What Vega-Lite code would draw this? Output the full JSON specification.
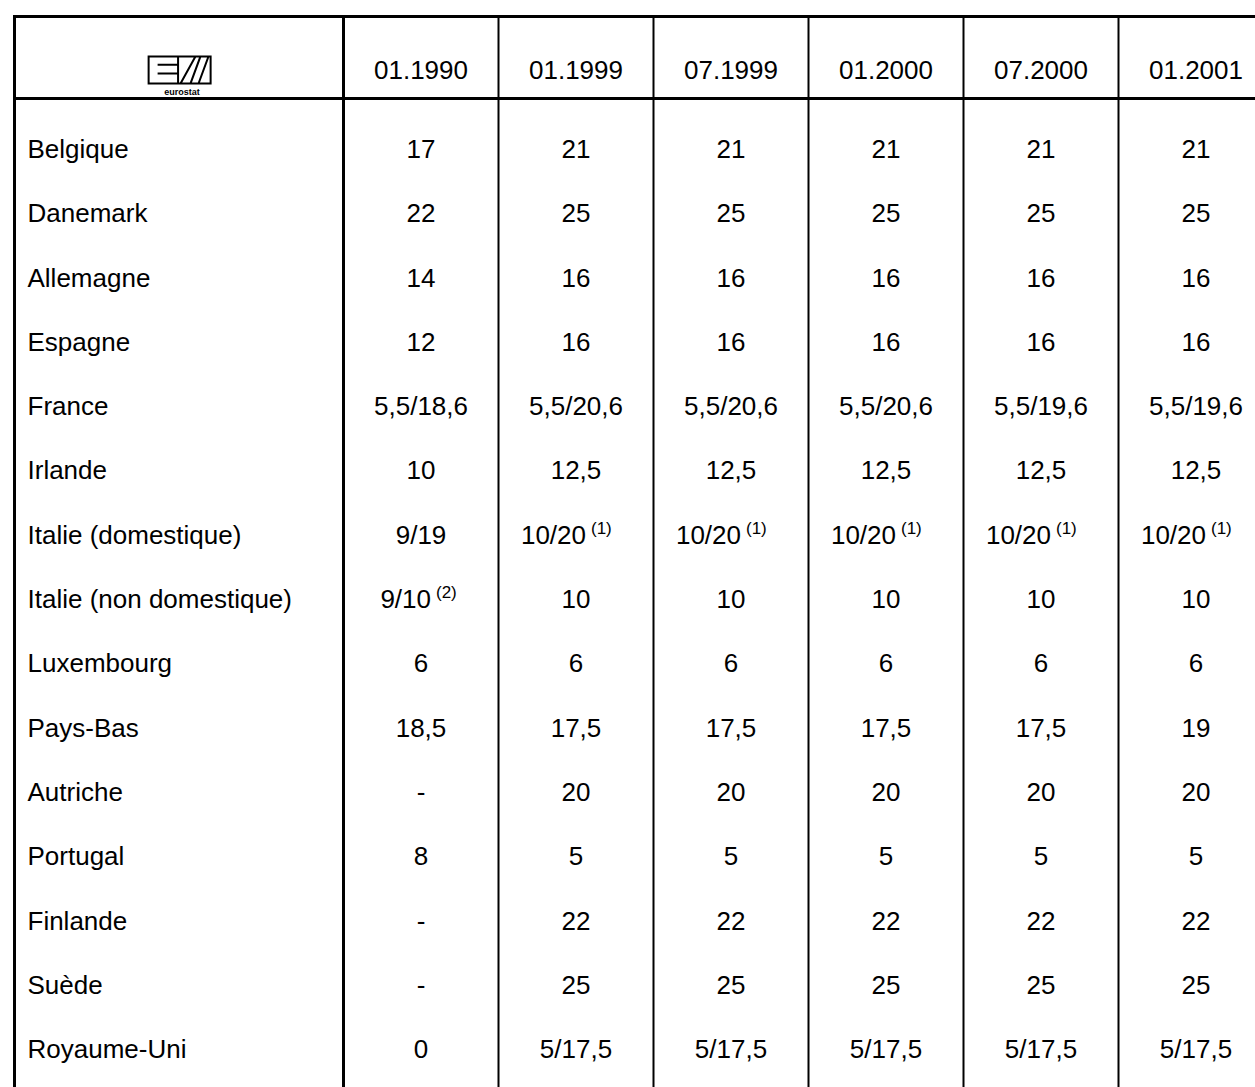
{
  "$schema": "https://vega.github.io/schema/vega-lite/v6.json",
  "padding": {"left": 12.5, "top": 13.5, "right": 0, "bottom": 0},
  "background": "white",
  "config": {
    "view": {"stroke": "black", "strokeWidth": 2},
    "text": {"font": "Liberation Sans", "fontSize": 26, "color": "black"}
  },
  "datasets": {
    "cols": [{"date": "01.1990"}, {"date": "01.1999"}, {"date": "07.1999"}, {"date": "01.2000"}, {"date": "07.2000"}, {"date": "01.2001"}],
    "pays": [
      {"pays": "Belgique"}, {"pays": "Danemark"}, {"pays": "Allemagne"}, {"pays": "Espagne"}, {"pays": "France"},
      {"pays": "Irlande"}, {"pays": "Italie (domestique)"}, {"pays": "Italie (non domestique)"}, {"pays": "Luxembourg"},
      {"pays": "Pays-Bas"}, {"pays": "Autriche"}, {"pays": "Portugal"}, {"pays": "Finlande"}, {"pays": "Suède"}, {"pays": "Royaume-Uni"}
    ],
    "cells": [
      {"pays": "Belgique", "date": "01.1990", "val": "17", "note": ""},
      {"pays": "Belgique", "date": "01.1999", "val": "21", "note": ""},
      {"pays": "Belgique", "date": "07.1999", "val": "21", "note": ""},
      {"pays": "Belgique", "date": "01.2000", "val": "21", "note": ""},
      {"pays": "Belgique", "date": "07.2000", "val": "21", "note": ""},
      {"pays": "Belgique", "date": "01.2001", "val": "21", "note": ""},
      {"pays": "Danemark", "date": "01.1990", "val": "22", "note": ""},
      {"pays": "Danemark", "date": "01.1999", "val": "25", "note": ""},
      {"pays": "Danemark", "date": "07.1999", "val": "25", "note": ""},
      {"pays": "Danemark", "date": "01.2000", "val": "25", "note": ""},
      {"pays": "Danemark", "date": "07.2000", "val": "25", "note": ""},
      {"pays": "Danemark", "date": "01.2001", "val": "25", "note": ""},
      {"pays": "Allemagne", "date": "01.1990", "val": "14", "note": ""},
      {"pays": "Allemagne", "date": "01.1999", "val": "16", "note": ""},
      {"pays": "Allemagne", "date": "07.1999", "val": "16", "note": ""},
      {"pays": "Allemagne", "date": "01.2000", "val": "16", "note": ""},
      {"pays": "Allemagne", "date": "07.2000", "val": "16", "note": ""},
      {"pays": "Allemagne", "date": "01.2001", "val": "16", "note": ""},
      {"pays": "Espagne", "date": "01.1990", "val": "12", "note": ""},
      {"pays": "Espagne", "date": "01.1999", "val": "16", "note": ""},
      {"pays": "Espagne", "date": "07.1999", "val": "16", "note": ""},
      {"pays": "Espagne", "date": "01.2000", "val": "16", "note": ""},
      {"pays": "Espagne", "date": "07.2000", "val": "16", "note": ""},
      {"pays": "Espagne", "date": "01.2001", "val": "16", "note": ""},
      {"pays": "France", "date": "01.1990", "val": "5,5/18,6", "note": ""},
      {"pays": "France", "date": "01.1999", "val": "5,5/20,6", "note": ""},
      {"pays": "France", "date": "07.1999", "val": "5,5/20,6", "note": ""},
      {"pays": "France", "date": "01.2000", "val": "5,5/20,6", "note": ""},
      {"pays": "France", "date": "07.2000", "val": "5,5/19,6", "note": ""},
      {"pays": "France", "date": "01.2001", "val": "5,5/19,6", "note": ""},
      {"pays": "Irlande", "date": "01.1990", "val": "10", "note": ""},
      {"pays": "Irlande", "date": "01.1999", "val": "12,5", "note": ""},
      {"pays": "Irlande", "date": "07.1999", "val": "12,5", "note": ""},
      {"pays": "Irlande", "date": "01.2000", "val": "12,5", "note": ""},
      {"pays": "Irlande", "date": "07.2000", "val": "12,5", "note": ""},
      {"pays": "Irlande", "date": "01.2001", "val": "12,5", "note": ""},
      {"pays": "Italie (domestique)", "date": "01.1990", "val": "9/19", "note": ""},
      {"pays": "Italie (domestique)", "date": "01.1999", "val": "10/20", "note": "(1)"},
      {"pays": "Italie (domestique)", "date": "07.1999", "val": "10/20", "note": "(1)"},
      {"pays": "Italie (domestique)", "date": "01.2000", "val": "10/20", "note": "(1)"},
      {"pays": "Italie (domestique)", "date": "07.2000", "val": "10/20", "note": "(1)"},
      {"pays": "Italie (domestique)", "date": "01.2001", "val": "10/20", "note": "(1)"},
      {"pays": "Italie (non domestique)", "date": "01.1990", "val": "9/10", "note": "(2)"},
      {"pays": "Italie (non domestique)", "date": "01.1999", "val": "10", "note": ""},
      {"pays": "Italie (non domestique)", "date": "07.1999", "val": "10", "note": ""},
      {"pays": "Italie (non domestique)", "date": "01.2000", "val": "10", "note": ""},
      {"pays": "Italie (non domestique)", "date": "07.2000", "val": "10", "note": ""},
      {"pays": "Italie (non domestique)", "date": "01.2001", "val": "10", "note": ""},
      {"pays": "Luxembourg", "date": "01.1990", "val": "6", "note": ""},
      {"pays": "Luxembourg", "date": "01.1999", "val": "6", "note": ""},
      {"pays": "Luxembourg", "date": "07.1999", "val": "6", "note": ""},
      {"pays": "Luxembourg", "date": "01.2000", "val": "6", "note": ""},
      {"pays": "Luxembourg", "date": "07.2000", "val": "6", "note": ""},
      {"pays": "Luxembourg", "date": "01.2001", "val": "6", "note": ""},
      {"pays": "Pays-Bas", "date": "01.1990", "val": "18,5", "note": ""},
      {"pays": "Pays-Bas", "date": "01.1999", "val": "17,5", "note": ""},
      {"pays": "Pays-Bas", "date": "07.1999", "val": "17,5", "note": ""},
      {"pays": "Pays-Bas", "date": "01.2000", "val": "17,5", "note": ""},
      {"pays": "Pays-Bas", "date": "07.2000", "val": "17,5", "note": ""},
      {"pays": "Pays-Bas", "date": "01.2001", "val": "19", "note": ""},
      {"pays": "Autriche", "date": "01.1990", "val": "-", "note": ""},
      {"pays": "Autriche", "date": "01.1999", "val": "20", "note": ""},
      {"pays": "Autriche", "date": "07.1999", "val": "20", "note": ""},
      {"pays": "Autriche", "date": "01.2000", "val": "20", "note": ""},
      {"pays": "Autriche", "date": "07.2000", "val": "20", "note": ""},
      {"pays": "Autriche", "date": "01.2001", "val": "20", "note": ""},
      {"pays": "Portugal", "date": "01.1990", "val": "8", "note": ""},
      {"pays": "Portugal", "date": "01.1999", "val": "5", "note": ""},
      {"pays": "Portugal", "date": "07.1999", "val": "5", "note": ""},
      {"pays": "Portugal", "date": "01.2000", "val": "5", "note": ""},
      {"pays": "Portugal", "date": "07.2000", "val": "5", "note": ""},
      {"pays": "Portugal", "date": "01.2001", "val": "5", "note": ""},
      {"pays": "Finlande", "date": "01.1990", "val": "-", "note": ""},
      {"pays": "Finlande", "date": "01.1999", "val": "22", "note": ""},
      {"pays": "Finlande", "date": "07.1999", "val": "22", "note": ""},
      {"pays": "Finlande", "date": "01.2000", "val": "22", "note": ""},
      {"pays": "Finlande", "date": "07.2000", "val": "22", "note": ""},
      {"pays": "Finlande", "date": "01.2001", "val": "22", "note": ""},
      {"pays": "Suède", "date": "01.1990", "val": "-", "note": ""},
      {"pays": "Suède", "date": "01.1999", "val": "25", "note": ""},
      {"pays": "Suède", "date": "07.1999", "val": "25", "note": ""},
      {"pays": "Suède", "date": "01.2000", "val": "25", "note": ""},
      {"pays": "Suède", "date": "07.2000", "val": "25", "note": ""},
      {"pays": "Suède", "date": "01.2001", "val": "25", "note": ""},
      {"pays": "Royaume-Uni", "date": "01.1990", "val": "0", "note": ""},
      {"pays": "Royaume-Uni", "date": "01.1999", "val": "5/17,5", "note": ""},
      {"pays": "Royaume-Uni", "date": "07.1999", "val": "5/17,5", "note": ""},
      {"pays": "Royaume-Uni", "date": "01.2000", "val": "5/17,5", "note": ""},
      {"pays": "Royaume-Uni", "date": "07.2000", "val": "5/17,5", "note": ""},
      {"pays": "Royaume-Uni", "date": "01.2001", "val": "5/17,5", "note": ""}
    ]
  },
  "columns": 2,
  "spacing": 0,
  "bounds": "flush",
  "concat": [
    {
      "width": 329,
      "height": 82,
      "view": {"stroke": "black", "strokeWidth": 3},
      "layer": [
        {
          "data": {"values": [{"logo": "eurostat"}]},
          "mark": {"type": "point", "shape": "M-0.98,-0.03H1.02V0.84H-0.98Z M-0.69,0.23H-0.03 M-0.69,0.52H-0.03 M-0.03,-0.03V0.84 M0.05,0.84L0.53,-0.03 M0.37,0.84L0.63,0.84L0.95,-0.03L0.69,-0.03Z", "size": 3844, "filled": false, "stroke": "black", "strokeWidth": 2, "opacity": 1},
          "encoding": {}
        },
        {
          "data": {"values": [{"logo": "eurostat"}]},
          "mark": {"type": "text", "fontSize": 9, "fontWeight": "bold", "dx": 3, "dy": 34},
          "encoding": {"text": {"field": "logo"}}
        }
      ]
    },
    {
      "width": 930,
      "height": 82,
      "view": {"stroke": "black", "strokeWidth": 3},
      "data": {"name": "cols"},
      "layer": [
        {
          "mark": {"type": "rule", "strokeWidth": 2, "color": "black"},
          "encoding": {"x": {"field": "date", "type": "nominal", "bandPosition": 0, "axis": null,
            "scale": {"type": "band", "paddingInner": 0, "paddingOuter": 0, "domain": ["01.1990", "01.1999", "07.1999", "01.2000", "07.2000", "01.2001"]}}}
        },
        {
          "mark": {"type": "text", "dy": 13},
          "encoding": {
            "x": {"field": "date", "type": "nominal", "axis": null,
              "scale": {"type": "band", "paddingInner": 0, "paddingOuter": 0, "domain": ["01.1990", "01.1999", "07.1999", "01.2000", "07.2000", "01.2001"]}},
            "text": {"field": "date"}
          }
        }
      ]
    },
    {
      "width": 329,
      "height": {"step": 64.3},
      "view": {"stroke": "black", "strokeWidth": 3},
      "data": {"name": "pays"},
      "mark": {"type": "text", "align": "left", "baseline": "middle", "dx": 13},
      "encoding": {
        "x": {"datum": 0, "type": "quantitative", "scale": {"domain": [0, 1]}, "axis": null},
        "y": {"field": "pays", "type": "nominal", "sort": null, "axis": null, "scale": {"type": "band", "paddingInner": 0, "paddingOuter": 0.3}},
        "text": {"field": "pays"}
      }
    },
    {
      "width": 930,
      "height": {"step": 64.3},
      "view": {"stroke": "black", "strokeWidth": 2},
      "encoding": {
        "x": {"field": "date", "type": "nominal", "axis": null,
          "scale": {"type": "band", "paddingInner": 0, "paddingOuter": 0, "domain": ["01.1990", "01.1999", "07.1999", "01.2000", "07.2000", "01.2001"]}}
      },
      "layer": [
        {
          "data": {"name": "cols"},
          "mark": {"type": "rule", "strokeWidth": 2, "color": "black"},
          "encoding": {"x": {"field": "date", "type": "nominal", "bandPosition": 0, "axis": null}}
        },
        {
          "data": {"name": "cells"},
          "transform": [{"filter": {"field": "note", "equal": ""}}],
          "mark": {"type": "text", "align": "center", "baseline": "middle"},
          "encoding": {
            "y": {"field": "pays", "type": "nominal", "axis": null,
              "scale": {"type": "band", "paddingInner": 0, "paddingOuter": 0.3, "domain": ["Belgique", "Danemark", "Allemagne", "Espagne", "France", "Irlande", "Italie (domestique)", "Italie (non domestique)", "Luxembourg", "Pays-Bas", "Autriche", "Portugal", "Finlande", "Suède", "Royaume-Uni"]}},
            "text": {"field": "val"}
          }
        },
        {
          "data": {"name": "cells"},
          "transform": [{"filter": "datum.note !== ''"}],
          "mark": {"type": "text", "align": "right", "baseline": "middle", "dx": 10},
          "encoding": {
            "y": {"field": "pays", "type": "nominal", "axis": null},
            "text": {"field": "val"}
          }
        },
        {
          "data": {"name": "cells"},
          "transform": [{"filter": "datum.note !== ''"}],
          "mark": {"type": "text", "align": "left", "baseline": "middle", "dx": 15, "dy": -7, "fontSize": 17},
          "encoding": {
            "y": {"field": "pays", "type": "nominal", "axis": null},
            "text": {"field": "note"}
          }
        }
      ]
    }
  ]
}
